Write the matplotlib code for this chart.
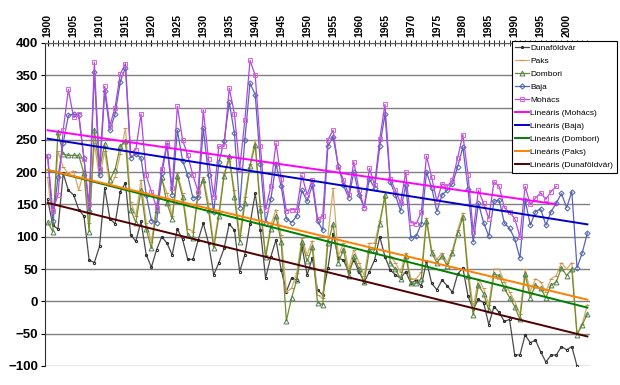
import numpy as np
import matplotlib.pyplot as plt

plt.rcParams['font.family'] = ['Liberation Sans', 'DejaVu Sans']

years = np.arange(1900, 2005)
nan = np.nan

# low water levels (cm), 1900..2004
dunafoldvar = [158, 118, 112, 198, 172, 165, 142, 132, 64, 60,
               85, 175, 128, 120, 170, 183, 103, 93, 124, 72,
               53, 80, 100, 90, 72, 112, 96, 65, 65, 95,
               121, 90, 41, 60, 82, 120, 110, 46, 72, 120,
               167, 110, 36, 69, 95, 49, 15, 36, 33, 85,
               41, 67, 18, 10, 51, 105, 67, 64, 46, 64,
               46, 30, 46, 64, 100, 69, 49, 41, 36, 46,
               28, 33, 24, 62, 28, 18, 33, 24, 14, 42,
               52, 8, -12, 3, -2, -36, -8, -17, -31, -28,
               -83, -83, -52, -64, -60, -78, -94, -83, -83, -70,
               -75, -70, -100, nan, nan]
paks = [192, 122, 232, 208, 198, 202, 172, 202, 122, 245,
        192, 232, 178, 192, 228, 268, 154, 132, 188, 122,
        92, 148, 188, 168, 132, 198, 168, 112, 108, 162,
        192, 152, 88, 138, 198, 218, 172, 102, 162, 212,
        250, 148, 72, 118, 142, 102, 15, 20, 44, 98,
        72, 94, 10, 5, 100, 175, 70, 90, 50, 80,
        60, 40, 90, 90, 125, 160, 70, 60, 45, 75,
        35, 35, 45, 129, 80, 65, 75, 60, 80, 110,
        137, 50, -10, 35, 20, -5, 50, 50, 30, 15,
        0, -20, 50, 15, 35, 30, 15, 35, 40, 60,
        50, 60, -50, -35, -5]
dombori = [123, 108, 262, 228, 226, 226, 226, 198, 108, 266,
           204, 244, 188, 204, 240, 248, 142, 122, 172, 112,
           82, 142, 192, 152, 128, 194, 162, 102, 98, 172,
           188, 142, 82, 132, 194, 225, 162, 92, 152, 210,
           242, 142, 68, 112, 132, 92, -30, 5, 33, 92,
           62, 84, -2, -5, 90, 120, 60, 80, 40, 70,
           50, 30, 80, 80, 120, 165, 60, 50, 35, 70,
           28, 28, 35, 125, 75, 60, 70, 55, 75, 106,
           130, 40, -21, 25, 12, -14, 42, 40, 20, 6,
           -8, -28, 42, 6, 25, 20, 6, 25, 30, 52,
           40, 50, -52, -36, -20]
baja = [225, 125, 192, 245, 288, 290, 288, 222, 140, 355,
        195, 325, 265, 290, 340, 362, 222, 228, 222, 165,
        125, 122, 198, 242, 165, 265, 218, 195, 160, 162,
        268, 195, 138, 215, 248, 308, 260, 145, 250, 338,
        320, 212, 122, 158, 212, 178, 128, 122, 132, 172,
        155, 180, 125, 110, 240, 255, 210, 180, 160, 200,
        165, 145, 190, 175, 240, 290, 185, 165, 140, 180,
        98, 101, 120, 200, 176, 139, 165, 172, 182, 208,
        239, 174, 92, 152, 122, 101, 155, 157, 121, 113,
        97, 67, 157, 118, 139, 143, 118, 139, 152, 167,
        145, 170, 52, 75, 106]
mohacs = [225, 140, 165, 265, 328, 285, 290, 220, 150, 370,
          205, 333, 272, 300, 352, 368, 230, 235, 290, 195,
          170, 145, 205, 245, 175, 302, 250, 226, 195, 170,
          296, 220, 162, 240, 240, 330, 290, 205, 280, 373,
          350, 240, 142, 178, 245, 190, 140, 142, 142, 195,
          165, 188, 128, 132, 250, 265, 208, 188, 165, 216,
          172, 145, 206, 180, 252, 305, 190, 172, 152, 200,
          122, 120, 138, 225, 192, 155, 182, 178, 188, 222,
          258, 196, 108, 172, 152, 128, 185, 178, 145, 138,
          128, 100, 178, 150, 160, 168, 158, 170, 178, nan,
          nan, nan, nan, nan, nan]

stations = ['Dunaföldvár', 'Paks', 'Dombori', 'Baja', 'Mohács']
series = [dunafoldvar, paks, dombori, baja, mohacs]
line_colors = ['#4a4a4a', '#d8aa6a', '#6f8f2a', '#5a62c0', '#b048e0']
marker_edge = ['#202020', '#c89048', '#4f7f50', '#4a64a8', '#e060e0']
markers = ['.', '_', '^', 'D', 's']
msizes = [3.2, 3, 3.5, 2.6, 3.5]
trend_colors = ['#500000', '#ff8000', '#008000', '#0000c8', '#ff00ff']

fig = plt.figure(figsize=(6.2, 3.85), dpi=100)
ax = fig.add_axes([0.0726, 0.0494, 0.879, 0.839])

handles = []
for name, vals, lc, me, mk, ms in zip(stations, series, line_colors, marker_edge, markers, msizes):
    h, = ax.plot(years, vals, color=lc, lw=0.9, marker=mk, ms=ms,
                 mfc='none', mec=me, mew=0.7, label=name)
    handles.append(h)

# linear trends (drawn on top), in legend order Mohács..Dunaföldvár
trend_handles = []
for i in [4, 3, 2, 1, 0]:
    v = np.array(series[i], dtype=float)
    ok = ~np.isnan(v)
    k, b = np.polyfit(years[ok], v[ok], 1)
    xr = years if i != 4 else years[ok]
    h, = ax.plot(xr, k * xr + b, color=trend_colors[i], lw=1.4,
                 label='Lineáris (%s)' % stations[i])
    trend_handles.append(h)

ax.set_xlim(1899.5, 2004.5)
ax.set_ylim(-100, 400)
ax.set_yticks(np.arange(-100, 401, 50))
ax.yaxis.grid(True, color='#808080', lw=1.0)
ax.set_axisbelow(True)
ax.tick_params(axis='y', labelsize=9.5, length=3, pad=2)
for t in ax.get_yticklabels():
    t.set_fontweight('bold')

ax.xaxis.tick_top()
ax.set_xticks(np.arange(1900, 2001, 5))
ax.set_xticks(np.arange(1900, 2005, 1), minor=True)
ax.tick_params(axis='x', which='major', labelsize=7.5, rotation=90,
               direction='inout', length=5, pad=2)
ax.tick_params(axis='x', which='minor', direction='inout', length=4)
for t in ax.get_xticklabels():
    t.set_fontweight('bold')

ax.spines['right'].set_visible(False)
ax.spines['bottom'].set_visible(False)
ax.spines['top'].set_color('#606060')
ax.spines['left'].set_color('#303030')

leg = fig.legend(handles=handles + trend_handles, loc='upper left',
                 bbox_to_anchor=(0.826, 0.893), fontsize=6.0, frameon=True,
                 fancybox=False, edgecolor='black', framealpha=1,
                 handlelength=1.6, handletextpad=0.2, labelspacing=0.62,
                 borderpad=0.4, borderaxespad=0)
leg.get_frame().set_linewidth(0.8)

fig.savefig('out.png', dpi=100)
